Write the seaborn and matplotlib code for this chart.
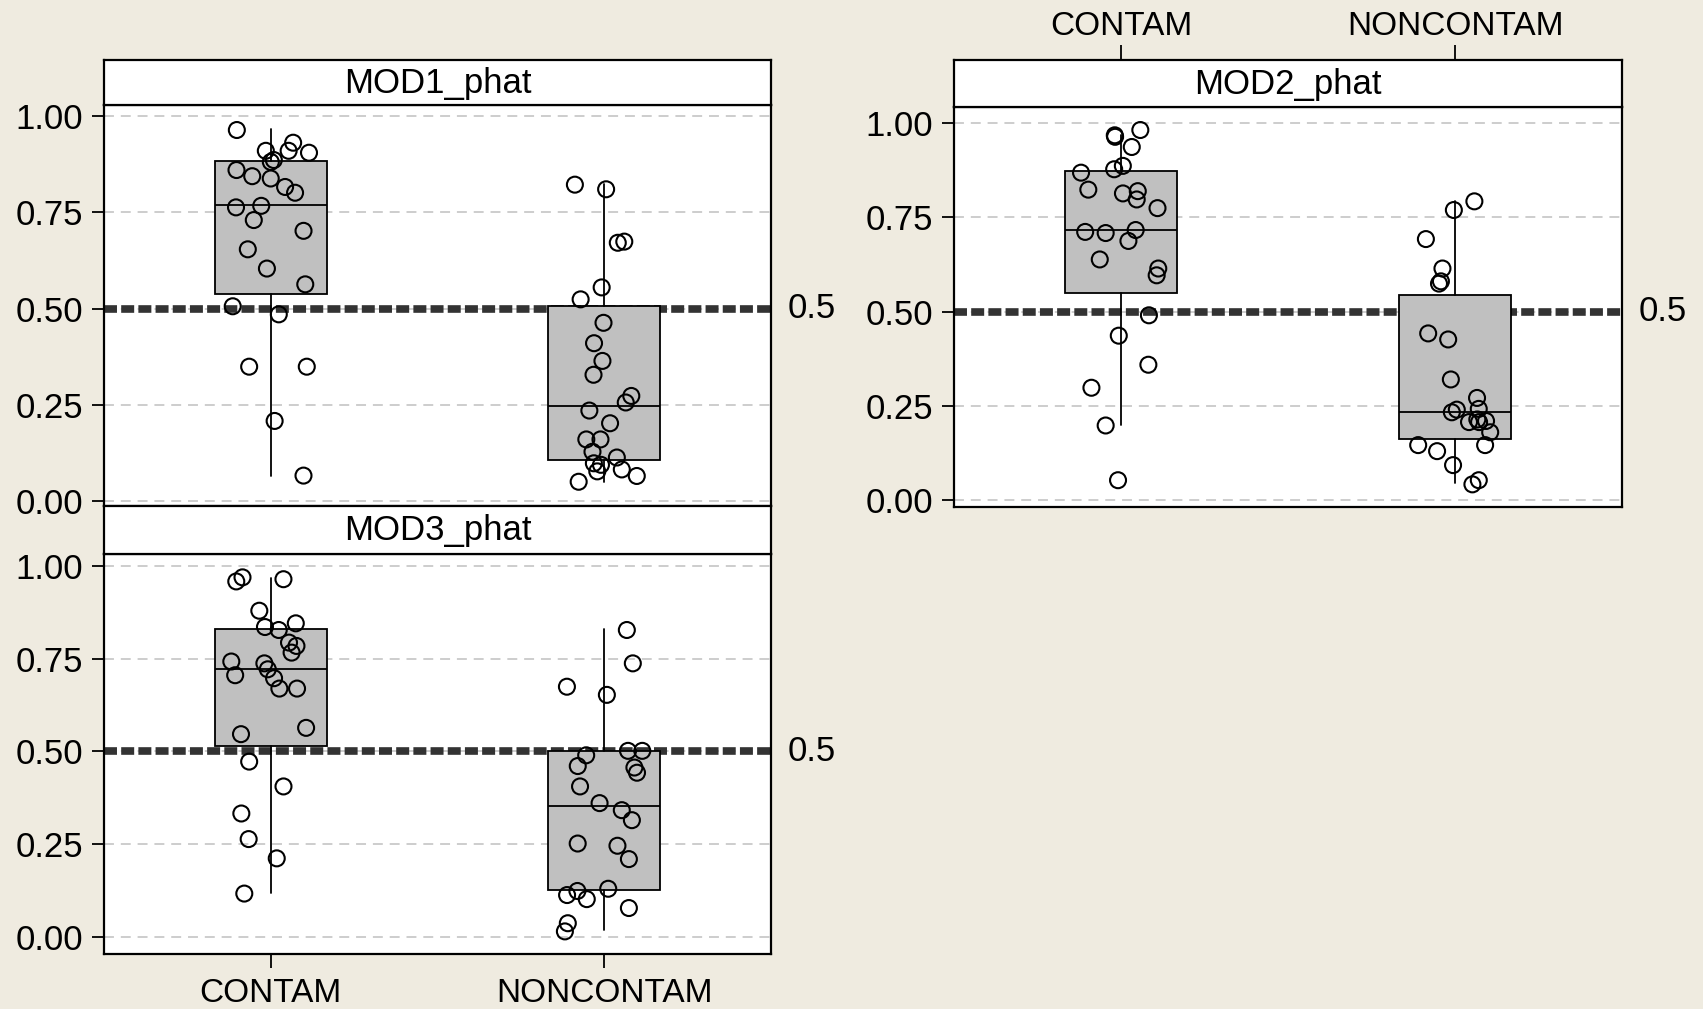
import numpy as np
import pandas as pd
import seaborn as sns
import matplotlib.pyplot as plt

groups = ['CONTAM', 'NONCONTAM']
ticks = [0.0, 0.25, 0.5, 0.75, 1.0]
tick_labels = ['0.00', '0.25', '0.50', '0.75', '1.00']

# predicted probabilities
mod1_contam = [0.964, 0.931, 0.910, 0.910, 0.905, 0.886, 0.881, 0.860, 0.844, 0.838, 0.816, 0.801, 0.767,
               0.763, 0.730, 0.702, 0.654, 0.604, 0.563, 0.506, 0.485, 0.349, 0.349, 0.208, 0.066]
mod1_noncontam = [0.822, 0.810, 0.674, 0.671, 0.555, 0.524, 0.463, 0.410, 0.364, 0.328, 0.273, 0.256,
                  0.235, 0.202, 0.160, 0.160, 0.128, 0.113, 0.098, 0.094, 0.082, 0.077, 0.065, 0.050]
mod2_contam = [0.981, 0.967, 0.963, 0.936, 0.886, 0.877, 0.868, 0.823, 0.819, 0.813, 0.797, 0.774, 0.716,
               0.711, 0.708, 0.687, 0.638, 0.614, 0.596, 0.490, 0.436, 0.359, 0.298, 0.198, 0.053]
mod2_noncontam = [0.792, 0.769, 0.692, 0.614, 0.580, 0.574, 0.442, 0.426, 0.320, 0.271, 0.242, 0.240,
                  0.233, 0.214, 0.210, 0.207, 0.207, 0.180, 0.146, 0.146, 0.130, 0.093, 0.053, 0.042]
mod3_contam = [0.969, 0.964, 0.958, 0.879, 0.845, 0.835, 0.827, 0.793, 0.784, 0.766, 0.742, 0.737, 0.721,
               0.705, 0.697, 0.669, 0.669, 0.563, 0.546, 0.472, 0.405, 0.332, 0.263, 0.211, 0.116]
mod3_noncontam = [0.827, 0.737, 0.674, 0.652, 0.501, 0.501, 0.489, 0.460, 0.456, 0.442, 0.405, 0.360,
                  0.341, 0.314, 0.251, 0.245, 0.209, 0.129, 0.123, 0.112, 0.101, 0.077, 0.036, 0.014]

# box summaries as drawn (CONTAM, NONCONTAM)
mod1_q1, mod1_med, mod1_q3 = [0.537, 0.106], [0.769, 0.248], [0.883, 0.507]
mod1_lo, mod1_hi = [0.066, 0.050], [0.966, 0.825]
mod2_q1, mod2_med, mod2_q3 = [0.549, 0.161], [0.716, 0.233], [0.872, 0.543]
mod2_lo, mod2_hi = [0.199, 0.045], [0.967, 0.792]
mod3_q1, mod3_med, mod3_q3 = [0.514, 0.125], [0.722, 0.351], [0.831, 0.501]
mod3_lo, mod3_hi = [0.117, 0.018], [0.968, 0.831]

W, H = 1703, 1009
BG = '#efebe0'
FS = 24


def rect(left, top, right, bottom):
    return [left / W, 1 - bottom / H, (right - left) / W, (bottom - top) / H]


np.random.seed(7)
sns.set_style('ticks')
plt.rcParams['font.family'] = ['Liberation Sans', 'DejaVu Sans']
plt.rcParams['font.size'] = FS
plt.rcParams['text.color'] = 'black'
plt.rcParams['xtick.color'] = 'black'
plt.rcParams['ytick.color'] = 'black'

fig = plt.figure(figsize=(W / 100, H / 100), dpi=100, facecolor=BG)


def panel(title, contam, noncontam, q1, med, q3, lo, hi, ax_box, head_box, ylim, xlabels=None):
    ax = fig.add_axes(rect(*ax_box))
    hd = fig.add_axes(rect(*head_box))

    df = pd.DataFrame({'group': ['CONTAM'] * len(contam) + ['NONCONTAM'] * len(noncontam),
                       'phat': contam + noncontam})
    sns.stripplot(data=df, x='group', y='phat', order=groups, ax=ax, jitter=0.12, size=11.5,
                  color='black', facecolor='none', edgecolor='black', linewidth=1.5, zorder=4)

    stats = [dict(label=g, q1=q1[i], med=med[i], q3=q3[i], whislo=lo[i], whishi=hi[i], fliers=[])
             for i, g in enumerate(groups)]
    ax.bxp(stats, positions=[0, 1], widths=0.335, patch_artist=True, showcaps=False,
           showfliers=False, manage_ticks=False, zorder=2,
           boxprops=dict(facecolor='#c0c0c0', edgecolor='black', linewidth=1.3),
           medianprops=dict(color='black', linewidth=1.3),
           whiskerprops=dict(color='black', linewidth=1.3))

    ax.axhline(0.5, color='#333333', lw=5.5, ls=(0, (1.7, 0.55)), zorder=1)
    ax.annotate('0.5', xy=(1, 0.5), xycoords=('axes fraction', 'data'), xytext=(12, 0),
                textcoords='offset points', va='center', ha='left', fontsize=FS + 1)

    ax.set_xlim(-0.5, 1.5)
    ax.set_ylim(*ylim)
    ax.set_yticks(ticks)
    ax.set_yticklabels(tick_labels)
    ax.yaxis.grid(True, color='#c0c0c0', ls=(0, (6.5, 4.5)), lw=1.1)
    ax.set_axisbelow(True)
    ax.set_xlabel('')
    ax.set_ylabel('')
    ax.set_facecolor('white')
    ax.tick_params(axis='y', direction='out', length=9, width=1.3, pad=6, labelsize=FS + 1)
    if xlabels == 'bottom':
        ax.set_xticks([0, 1])
        ax.set_xticklabels(groups)
        ax.tick_params(axis='x', direction='out', length=10, width=1.3, pad=7, labelsize=FS)
    else:
        ax.set_xticks([])
    for s in ax.spines.values():
        s.set_color('black')
        s.set_linewidth(1.6)

    hd.set_xlim(-0.5, 1.5)
    hd.set_yticks([])
    hd.set_facecolor('white')
    hd.text(0.5, 0.48, title, transform=hd.transAxes, ha='center', va='center', fontsize=FS + 1)
    if xlabels == 'top':
        hd.xaxis.tick_top()
        hd.set_xticks([0, 1])
        hd.set_xticklabels(groups)
        hd.tick_params(axis='x', direction='out', length=11, width=1.3, pad=2, labelsize=FS)
    else:
        hd.set_xticks([])
    for s in hd.spines.values():
        s.set_color('black')
        s.set_linewidth(1.6)
    return ax


panel('MOD1_phat', mod1_contam, mod1_noncontam, mod1_q1, mod1_med, mod1_q3, mod1_lo, mod1_hi,
      (104, 105, 771, 506), (104, 60, 771, 105), (-0.013, 1.029))
panel('MOD2_phat', mod2_contam, mod2_noncontam, mod2_q1, mod2_med, mod2_q3, mod2_lo, mod2_hi,
      (954, 107, 1622, 507), (954, 60, 1622, 107), (-0.018, 1.042), xlabels='top')
panel('MOD3_phat', mod3_contam, mod3_noncontam, mod3_q1, mod3_med, mod3_q3, mod3_lo, mod3_hi,
      (104, 554, 771, 954), (104, 506, 771, 554), (-0.047, 1.032), xlabels='bottom')

fig.savefig('out.png', dpi=100, facecolor=BG)
